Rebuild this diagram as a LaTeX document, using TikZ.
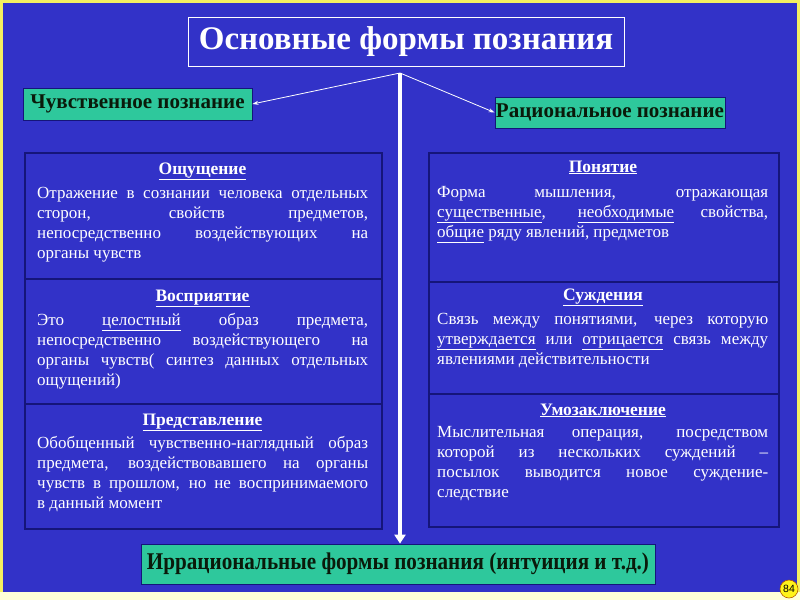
\documentclass[tikz,border=0pt]{standalone}
\usepackage{fontspec}
\setmainfont{Liberation Serif}
\newfontfamily\numfont{Liberation Sans}
\newfontfamily\condfont[FakeStretch=0.88]{Liberation Serif}
\usetikzlibrary{arrows.meta}
\definecolor{bg}{HTML}{3232C8}
\definecolor{frameyellow}{HTML}{F4F060}
\definecolor{cream}{HTML}{FFFFD8}
\definecolor{teal}{HTML}{2EC89C}
\definecolor{navy}{HTML}{15157A}
\definecolor{darkink}{HTML}{0A1A0A}
\newcommand\jl[1]{\hbox to 331pt{#1}}
\newcommand\fl[1]{\hbox to 331pt{\rule{0pt}{14pt}#1}}
\newcommand\ul[1]{\underline{#1}}
\tikzset{
  titlebox/.style={draw=white, line width=1pt, fill=bg, text=white, font=\bfseries\fontsize{33}{36}\selectfont, inner sep=0pt},
  greenbox/.style={draw=navy, line width=0.8pt, fill=teal, text=darkink, font=\bfseries\fontsize{21}{24}\selectfont, inner sep=0pt},
  section/.style={draw=navy, line width=1.6pt, fill=bg, anchor=north west, inner sep=0pt},
  heading/.style={text=white, font=\bfseries\fontsize{17.5}{20}\selectfont, anchor=base, inner sep=0pt},
  body/.style={text=white, font=\fontsize{17}{20}\selectfont, align=left, anchor=north west, inner sep=0pt},
  thinarrow/.style={draw=white, line width=0.8pt, -{Stealth[length=6pt,width=4pt]}},
  thickarrow/.style={draw=white, line width=3.5pt, -{Triangle[length=9pt,width=11pt]}},
  pagenum/.style={circle, fill=yellow!90!white, draw=orange!70!black, line width=0.6pt, minimum size=18pt, inner sep=0pt, text=black, font=\numfont\fontsize{10.5}{12}\selectfont}
}
\begin{document}
\begin{tikzpicture}[x=1pt,y=-1pt]
\useasboundingbox (0,0) rectangle (800,600);
\fill[frameyellow] (0,0) rectangle (800,600);
\fill[cream] (0,592) rectangle (800,600);
\fill[bg] (3,3) rectangle (797,592);

% title
\node[titlebox, minimum width=436pt, minimum height=49pt] (title) at (406,41.5) {Основные формы познания};
\coordinate (apex) at (400,73);

% green boxes
\node[greenbox, minimum width=229pt, minimum height=32pt] (sens) at (137.5,104) {Чувственное познание};
\node[greenbox, minimum width=230pt, minimum height=31pt] (rat) at (610,112.5) {Рациональное познание};
\node[greenbox, minimum width=514pt, minimum height=40pt, font=\condfont\bfseries\fontsize{24}{28}\selectfont] (irr) at (398,564) {Иррациональные формы познания (интуиция и т.д.)};

% left panel sections
\node[section, minimum width=357pt, minimum height=126pt] (l1) at (24,152) {};
\node[section, minimum width=357pt, minimum height=125pt] (l2) at (24,278) {};
\node[section, minimum width=357pt, minimum height=125pt] (l3) at (24,403) {};
% right panel sections
\node[section, minimum width=350pt, minimum height=129pt] (r1) at (428,152) {};
\node[section, minimum width=350pt, minimum height=112pt] (r2) at (428,281) {};
\node[section, minimum width=350pt, minimum height=133pt] (r3) at (428,393) {};

% connectors
\draw[thinarrow] (apex) -- (sens.east);
\draw[thinarrow] (apex) -- (rat.west);
\draw[thickarrow] (apex) -- (apex |- irr.north);

% left headings and texts
\node[heading] (h1) at (202.5,174) {\ul{Ощущение}};
\node[body] (t1) at (37,184) {\fl{Отражение в сознании человека отдельных}\\
\jl{сторон, свойств предметов,}\\
\jl{непосредственно воздействующих на}\\
органы чувств};

\node[heading] (h2) at (202.5,301) {\ul{Восприятие}};
\node[body] (t2) at (37,311) {\fl{Это \ul{целостный} образ предмета,}\\
\jl{непосредственно воздействующего на}\\
\jl{органы чувств( синтез данных отдельных}\\
ощущений)};

\node[heading] (h3) at (202.5,425) {\ul{Представление}};
\node[body] (t3) at (37,434) {\fl{Обобщенный чувственно-наглядный образ}\\
\jl{предмета, воздействовавшего на органы}\\
\jl{чувств в прошлом, но не воспринимаемого}\\
в данный момент};

% right headings and texts
\node[heading] (h4) at (603,172) {\ul{Понятие}};
\node[body] (t4) at (437,183) {\fl{Форма мышления, отражающая}\\
\jl{\ul{существенные}, \ul{необходимые} свойства,}\\
\ul{общие} ряду явлений, предметов};

\node[heading] (h5) at (603,300) {\ul{Суждения}};
\node[body] (t5) at (437,310) {\fl{Связь между понятиями, через которую}\\
\jl{\ul{утверждается} или \ul{отрицается} связь между}\\
явлениями действительности};

\node[heading] (h6) at (603,415) {\ul{Умозаключение}};
\node[body] (t6) at (437,423) {\fl{Мыслительная операция, посредством}\\
\jl{которой из нескольких суждений –}\\
\jl{посылок выводится новое суждение-}\\
следствие};

% page number
\node[pagenum] (pg) at (789,589) {84};
\end{tikzpicture}
\end{document}
